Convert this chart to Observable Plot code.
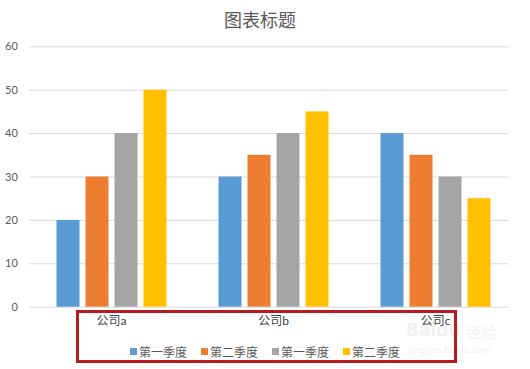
<!DOCTYPE html>
<html>
<head>
<meta charset="utf-8">
<script src="https://cdn.jsdelivr.net/npm/d3@7"></script>
<script src="https://cdn.jsdelivr.net/npm/@observablehq/plot@0.6"></script>
<style>
  html, body { margin: 0; padding: 0; background: #fff; }
  #wrap { position: relative; width: 530px; height: 369px; overflow: hidden; background: #fff;
          font-family: Lato, "Noto Sans CJK SC", sans-serif; }
  #wrap svg { position: absolute; left: 0; top: 0; background: transparent !important; }
  #title { position: absolute; left: 224px; top: 9px; font-size: 18px; line-height: 20px; color: #595959;
           font-family: "Noto Sans CJK SC", sans-serif; white-space: nowrap; }
  #legend { position: absolute; left: 0; width: 530px; top: 343px; height: 16px; display: flex;
            justify-content: center; align-items: center; font-size: 12px; color: #595959;
            font-family: "Noto Sans CJK SC", sans-serif; }
  .item { display: flex; align-items: center; margin: 0 7px; }
  .sw { width: 7px; height: 7px; margin-right: 2px; }
  #box { position: absolute; left: 76px; top: 310px; width: 381px; height: 53px; box-sizing: border-box;
         border: 3px solid #b81c22; }
  .wm { position: absolute; color: #f1f1f1; white-space: nowrap; font-family: "DejaVu Sans", sans-serif; }
</style>
</head>
<body>
<div id="wrap">
  <div id="title">图表标题</div>
</div>
<script>
const companies = ["公司a", "公司b", "公司c"];
const seriesKeys = ["s1", "s2", "s3", "s4"];
const seriesNames = ["第一季度", "第二季度", "第一季度", "第二季度"];
const seriesColors = ["#5b9bd5", "#ed7d31", "#a5a5a5", "#ffc000"];
const valuesA = [20, 30, 40, 50];
const valuesB = [30, 35, 40, 45];
const valuesC = [40, 35, 30, 25];
const yTicks = [0, 10, 20, 30, 40, 50, 60];

const valueRows = [valuesA, valuesB, valuesC];
const rows = [];
companies.forEach((c, i) => seriesKeys.forEach((k, j) => rows.push({company: c, key: k, value: valueRows[i][j]})));

const wrap = document.getElementById("wrap");

// watermark (faint, underneath everything)
const wm1 = document.createElement("div");
wm1.className = "wm"; wm1.style.left = "406px"; wm1.style.top = "320px"; wm1.style.fontSize = "17px"; wm1.style.fontWeight = "bold";
wm1.textContent = "Baidu";
wrap.appendChild(wm1);
const wm2 = document.createElement("div");
wm2.className = "wm"; wm2.style.left = "466px"; wm2.style.top = "321px"; wm2.style.fontSize = "15px";
wm2.style.fontFamily = "'Noto Sans CJK SC', sans-serif";
wm2.textContent = "经验";
wrap.appendChild(wm2);
const wm3 = document.createElement("div");
wm3.className = "wm"; wm3.style.left = "408px"; wm3.style.top = "345px"; wm3.style.fontSize = "9px";
wm3.textContent = "jingyan.baidu.com";
wrap.appendChild(wm3);

const gridPlot = Plot.plot({
  width: 530, height: 369,
  marginLeft: 29.3, marginRight: 22, marginTop: 46.3, marginBottom: 62.3,
  style: {background: "transparent", fontSize: "11px", color: "#595959", fontFamily: "Lato, 'Noto Sans CJK SC', sans-serif"},
  y: {domain: [0, 60], ticks: yTicks, tickSize: 0, tickPadding: 12, label: null},
  marks: [Plot.ruleY(yTicks, {stroke: "#d9d9d9"})]
});
wrap.appendChild(gridPlot);

const barPlot = Plot.plot({
  width: 530, height: 369,
  marginLeft: 29.5, marginRight: 14.5, marginTop: 46.3, marginBottom: 62.3,
  style: {background: "transparent", fontSize: "12px", color: "#404040", fontFamily: "Lato, 'Noto Sans CJK SC', sans-serif"},
  fx: {domain: companies, padding: 0, label: null, tickSize: 0, tickPadding: 9},
  x: {domain: seriesKeys, paddingInner: 0.218, paddingOuter: 0.864, axis: null},
  y: {domain: [0, 60], axis: null},
  color: {domain: seriesKeys, range: seriesColors},
  marks: [Plot.barY(rows, {fx: "company", x: "key", y: "value", fill: "key"})]
});
wrap.appendChild(barPlot);

// legend
const legend = document.createElement("div");
legend.id = "legend";
seriesKeys.forEach((k, i) => {
  const it = document.createElement("div");
  it.className = "item";
  const sw = document.createElement("div");
  sw.className = "sw";
  sw.style.background = seriesColors[i];
  const tx = document.createElement("span");
  tx.textContent = seriesNames[i];
  it.appendChild(sw); it.appendChild(tx);
  legend.appendChild(it);
});
wrap.appendChild(legend);

const box = document.createElement("div");
box.id = "box";
wrap.appendChild(box);
</script>
</body>
</html>
